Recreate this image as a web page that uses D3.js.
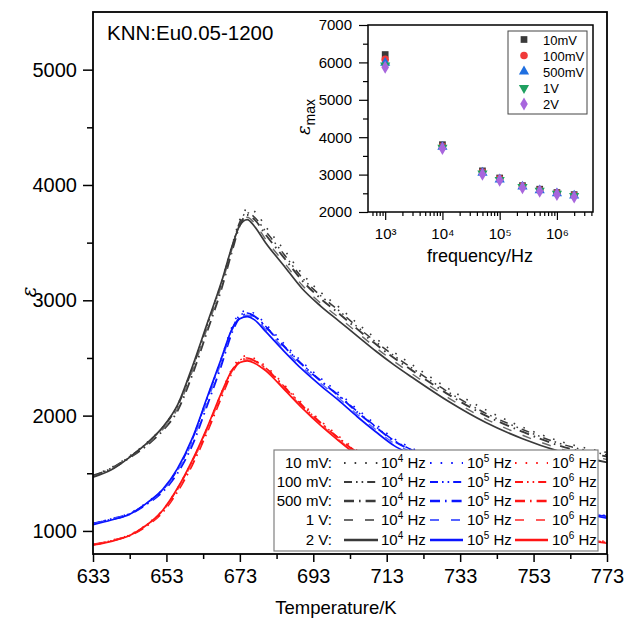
<!DOCTYPE html>
<html><head><meta charset="utf-8">
<script src="https://cdn.jsdelivr.net/npm/d3@7"></script>
<style>
body{margin:0;background:#fff;}
text{font-family:"Liberation Sans",Arial,Helvetica,sans-serif;fill:#000;}
</style></head>
<body><svg id="c" width="625" height="620"></svg>
<script>
// ---------- DATA ----------
const temps = [633,638,643,648,652,656,660,664,668,671,673,675,677,680,685,690,695,700,705,710,715,720,730,740,750,760,773];

const k_10mV  = [1480,1550,1650,1775,1900,2090,2410,2780,3160,3490,3700,3790,3770,3640,3440,3230,3070,2940,2800,2670,2550,2440,2230,2050,1900,1780,1680];
const k_100mV = [1475,1545,1645,1770,1895,2080,2400,2770,3150,3480,3680,3760,3720,3600,3400,3195,3040,2910,2770,2640,2520,2410,2200,2020,1880,1760,1660];
const k_500mV = [1480,1540,1635,1750,1870,2040,2350,2720,3100,3440,3650,3740,3700,3570,3370,3170,3015,2885,2750,2620,2500,2390,2180,2000,1860,1740,1645];
const k_1V    = [1470,1535,1640,1760,1880,2060,2380,2750,3130,3460,3660,3720,3670,3530,3330,3130,2975,2850,2720,2590,2470,2360,2150,1970,1830,1715,1620];
const k_2V    = [1465,1530,1640,1770,1900,2090,2420,2790,3160,3480,3650,3700,3640,3500,3300,3100,2950,2820,2690,2560,2440,2330,2120,1940,1800,1690,1595];

const b_10mV  = [1065,1105,1155,1255,1360,1535,1795,2145,2500,2780,2890,2910,2885,2795,2625,2465,2325,2195,2055,1925,1800,1715,1560,1435,1325,1230,1130];
const b_100mV = [1060,1105,1150,1250,1355,1530,1790,2140,2490,2760,2870,2890,2865,2775,2605,2445,2305,2175,2035,1905,1785,1700,1550,1425,1315,1225,1125];
const b_500mV = [1065,1100,1145,1240,1340,1500,1740,2080,2440,2730,2850,2880,2860,2770,2600,2440,2300,2170,2030,1900,1780,1695,1545,1420,1310,1220,1120];
const b_1V    = [1060,1100,1150,1245,1350,1520,1770,2110,2470,2750,2850,2870,2845,2750,2580,2420,2280,2150,2010,1880,1760,1680,1530,1405,1300,1210,1115];
const b_2V    = [1055,1095,1145,1250,1360,1540,1800,2150,2500,2760,2840,2858,2830,2730,2560,2400,2260,2130,1990,1860,1740,1660,1510,1390,1290,1200,1110];

const r_10mV  = [884,918,968,1066,1182,1370,1605,1885,2200,2415,2495,2520,2495,2430,2270,2105,1955,1820,1695,1590,1495,1415,1270,1150,1050,975,905];
const r_100mV = [880,915,965,1062,1178,1365,1600,1880,2190,2400,2480,2500,2480,2415,2255,2090,1940,1805,1680,1575,1485,1405,1260,1140,1045,970,900];
const r_500mV = [882,914,960,1052,1162,1340,1570,1850,2160,2380,2470,2495,2475,2410,2250,2085,1935,1800,1675,1570,1480,1400,1255,1135,1040,968,898];
const r_1V    = [880,912,962,1058,1172,1355,1590,1870,2180,2390,2465,2485,2465,2400,2240,2075,1925,1790,1665,1560,1470,1390,1250,1130,1035,965,896];
const r_2V    = [878,910,960,1060,1180,1370,1610,1890,2200,2400,2460,2475,2455,2390,2230,2065,1915,1780,1655,1550,1460,1380,1240,1125,1030,960,893];

const voltLabels = ["10 mV:","100 mV:","500 mV:","1 V:","2 V:"];
const freqExps = ["4","5","6"];
const xTicks = [633,653,673,693,713,733,753,773];
const yTicks = [1000,2000,3000,4000,5000];

// inset
const freqs = [1e3,1e4,5e4,1e5,2.5e5,5e5,1e6,2e6];
const emax_10mV  = [6210,3800,3100,2910,2705,2610,2520,2465];
const emax_100mV = [6080,3760,3070,2890,2690,2590,2510,2450];
const emax_500mV = [5990,3740,3050,2870,2680,2580,2500,2440];
const emax_1V    = [5920,3720,3030,2860,2670,2570,2490,2430];
const emax_2V    = [5870,3700,3010,2850,2650,2555,2470,2400];
const insetLabels = ["10mV","100mV","500mV","1V","2V"];
const insetYTicks = [2000,3000,4000,5000,6000,7000];
const insetXLabels = ["10³","10⁴","10⁵","10⁶"];

// ---------- STYLE ----------
const colK = "#3a3a3a", colB = "#0a14ff", colR = "#ff1414";
const colK2 = "#6a6a6a", colB2 = "#5563ff", colR2 = "#ff5a5a";
const dashes = ["1.6,9","8,4,1.6,4,1.6,4","10,5,1.6,5","9,12",null];
const widths = [1.6,1.5,1.9,1.4,1.7];

const svg = d3.select("#c");
const x = d3.scaleLinear().domain([633,773]).range([93,607]);
const y = d3.scaleLinear().domain([800,5500]).range([554,12]);

svg.append("defs").append("clipPath").attr("id","clip")
  .append("rect").attr("x",93).attr("y",12).attr("width",514).attr("height",542);

const series = [
  {vals:[k_10mV,k_100mV,k_500mV,k_1V,k_2V], c:colK, c2:colK2},
  {vals:[b_10mV,b_100mV,b_500mV,b_1V,b_2V], c:colB, c2:colB2},
  {vals:[r_10mV,r_100mV,r_500mV,r_1V,r_2V], c:colR, c2:colR2}
];
const line = d3.line().x(d=>x(d[0])).y(d=>y(d[1])).curve(d3.curveMonotoneX);
const gCurves = svg.append("g").attr("clip-path","url(#clip)");
series.forEach(s=>{
  s.vals.forEach((v,i)=>{
    const pts = temps.map((t,j)=>[t,v[j]]);
    gCurves.append("path").attr("d",line(pts)).attr("fill","none")
      .attr("stroke", i===3 ? s.c2 : s.c).attr("stroke-width",widths[i])
      .attr("stroke-dasharray",dashes[i]);
  });
});

// axes
const xAx = svg.append("g").attr("transform","translate(0,554)")
  .call(d3.axisBottom(x).tickValues(xTicks).tickSize(8).tickFormat(d3.format("d")));
svg.append("g").attr("transform","translate(0,554)")
  .call(d3.axisBottom(x).tickValues([643,663,683,703,723,743,763]).tickSize(5).tickFormat(""));
const yAx = svg.append("g").attr("transform","translate(93,0)")
  .call(d3.axisLeft(y).tickValues(yTicks).tickSize(10).tickFormat(d3.format("d")));
svg.append("g").attr("transform","translate(93,0)")
  .call(d3.axisLeft(y).tickValues([1500,2500,3500,4500]).tickSize(6).tickFormat(""));
svg.selectAll(".domain").remove();
svg.selectAll(".tick line").attr("stroke","#000").attr("stroke-width",1.5);
xAx.selectAll("text").attr("font-size",20).attr("dy","0.95em").attr("y",10);
yAx.selectAll("text").attr("font-size",20).attr("x",-16);
svg.selectAll(".tick text").attr("font-family","Liberation Sans, Arial, sans-serif");

svg.append("rect").attr("x",93).attr("y",12).attr("width",514).attr("height",542)
  .attr("fill","none").attr("stroke","#000").attr("stroke-width",1.8);

svg.append("text").attr("x",336).attr("y",614).attr("text-anchor","middle")
  .attr("font-size",18.5).text("Temperature/K");
svg.append("text").attr("transform","translate(36,292) rotate(-90)").attr("text-anchor","middle")
  .attr("font-size",20).attr("font-style","italic").style("font-family","DejaVu Serif, serif").text("ε");
svg.append("text").attr("x",107).attr("y",40).attr("font-size",20.5).text("KNN:Eu0.05-1200");

// main legend
const lg = svg.append("g");
lg.append("rect").attr("x",274).attr("y",450).attr("width",324).attr("height",101)
  .attr("fill","#fff").attr("stroke","#808080").attr("stroke-width",1.2);
const rowY = [463,482,501,520,540];
const sampleX = [[344,378],[430,463],[515,548]];
const textX = [381,467,552];
voltLabels.forEach((lab,i)=>{
  lg.append("text").attr("x",332).attr("y",rowY[i]+5).attr("text-anchor","end")
    .attr("font-size",15).text(lab);
  series.forEach((s,k)=>{
    lg.append("line").attr("x1",sampleX[k][0]).attr("x2",sampleX[k][1])
      .attr("y1",rowY[i]).attr("y2",rowY[i])
      .attr("stroke", i===3 ? s.c2 : s.c).attr("stroke-width", i===2||i===4 ? 2.4 : (i===1?2:1.8))
      .attr("stroke-dasharray",dashes[i]);
    const t = lg.append("text").attr("x",textX[k]).attr("y",rowY[i]+5).attr("font-size",15);
    t.append("tspan").text("10");
    t.append("tspan").attr("dy",-6).attr("font-size",10).text(freqExps[k]);
    t.append("tspan").attr("dy",6).text(" Hz");
  });
});

// ---------- INSET ----------
const ix = d3.scaleLog().domain([Math.pow(10,2.7),Math.pow(10,6.63)]).range([368,593]);
const iy = d3.scaleLinear().domain([2000,7000]).range([212,25]);
const ig = svg.append("g");
const iyAx = ig.append("g").attr("transform","translate(368,0)")
  .call(d3.axisLeft(iy).tickValues(insetYTicks).tickSize(9).tickFormat(d3.format("d")));
ig.append("g").attr("transform","translate(368,0)")
  .call(d3.axisLeft(iy).tickValues([2500,3500,4500,5500,6500]).tickSize(5).tickFormat(""));
const majF = [1e3,1e4,1e5,1e6];
const minF = [];
[1e2,1e3,1e4,1e5,1e6].forEach(b=>{[2,3,4,5,6,7,8,9].forEach(m=>{const v=m*b; if(v>=ix.domain()[0]&&v<=ix.domain()[1]) minF.push(v);});});
const ixAx = ig.append("g").attr("transform","translate(0,212)")
  .call(d3.axisBottom(ix).tickValues(majF).tickSize(8).tickFormat((d,i)=>insetXLabels[i]));
ig.append("g").attr("transform","translate(0,212)")
  .call(d3.axisBottom(ix).tickValues(minF).tickSize(4).tickFormat(""));
ig.selectAll(".domain").remove();
ig.selectAll(".tick line").attr("stroke","#000").attr("stroke-width",1.2);
iyAx.selectAll("text").attr("font-size",15).attr("x",-16);
ixAx.selectAll("text").attr("font-size",15).attr("y",16).attr("dy","0.71em")
  .attr("font-family","Liberation Sans, Arial, sans-serif");
ig.append("rect").attr("x",368).attr("y",25).attr("width",225).attr("height",187)
  .attr("fill","none").attr("stroke","#000").attr("stroke-width",1.5);
ig.append("text").attr("x",480).attr("y",262).attr("text-anchor","middle").attr("font-size",18).text("frequency/Hz");
const yl = ig.append("text").attr("transform","translate(310,117) rotate(-90)").attr("text-anchor","middle").attr("font-size",18);
yl.append("tspan").attr("font-style","italic").style("font-family","DejaVu Serif, serif").text("ε");
yl.append("tspan").attr("dy",5).attr("font-size",14).text("max");

const insetSeries = [emax_10mV,emax_100mV,emax_500mV,emax_1V,emax_2V];
const mColors = ["#3a3a3a","#f03a3a","#1f6fe0","#1fa060","#a866dd"];
const mTypes = [d3.symbolSquare,d3.symbolCircle,d3.symbolTriangle,d3.symbolTriangle,d3.symbolDiamond];
const mRot = [0,0,0,180,0];
const mSize = [45,45,45,45,50];
insetSeries.forEach((vals,i)=>{
  vals.forEach((v,j)=>{
    ig.append("path").attr("d",d3.symbol().type(mTypes[i]).size(mSize[i])())
      .attr("transform",`translate(${ix(freqs[j])},${iy(v)}) rotate(${mRot[i]})`)
      .attr("fill",mColors[i]);
  });
});
// inset legend
ig.append("rect").attr("x",508).attr("y",31).attr("width",79).attr("height",83)
  .attr("fill","#fff").attr("stroke","#444").attr("stroke-width",1);
const iRow = [39.5,55.5,71.5,88,104];
insetLabels.forEach((lab,i)=>{
  ig.append("path").attr("d",d3.symbol().type(mTypes[i]).size(mSize[i])())
    .attr("transform",`translate(524,${iRow[i]}) rotate(${mRot[i]})`).attr("fill",mColors[i]);
  ig.append("text").attr("x",543).attr("y",iRow[i]+5).attr("font-size",13).text(lab);
});
</script></body></html>
